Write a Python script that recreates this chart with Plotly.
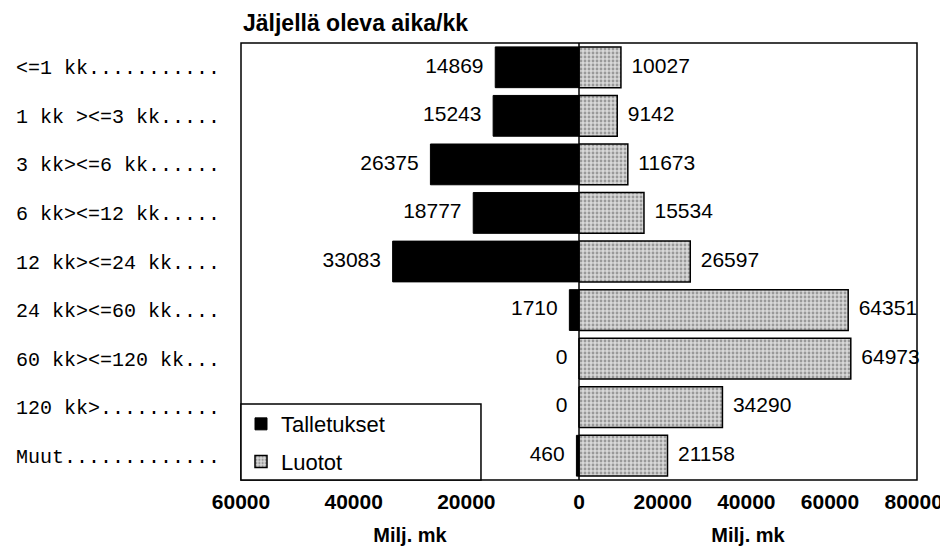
import plotly.graph_objects as go

categories = ["<=1 kk...........", "1 kk ><=3 kk.....", "3 kk><=6 kk......",
              "6 kk><=12 kk.....", "12 kk><=24 kk....", "24 kk><=60 kk....",
              "60 kk><=120 kk...", "120 kk>..........", "Muut............."]
talletukset = [14869, 15243, 26375, 18777, 33083, 1710, 0, 0, 460]
luotot = [10027, 9142, 11673, 15534, 26597, 64351, 64973, 34290, 21158]
left_ticks = [20000, 40000, 60000]
right_ticks = [0, 20000, 40000, 60000, 80000]

SANS = "Liberation Sans, Arial, sans-serif"
NB = "\u00a0"
EN = "\u2002"

fig = go.Figure()
fig.add_trace(go.Bar(
    y=categories, x=talletukset, orientation="h", name="Talletukset",
    xaxis="x", yaxis="y", width=0.84,
    marker=dict(color="black", line=dict(color="black", width=1)),
    legendgroup="a",
))
fig.add_trace(go.Bar(
    y=categories, x=luotot, orientation="h", name="Luotot",
    xaxis="x2", yaxis="y", width=0.84,
    marker=dict(color="#cccccc", line=dict(color="black", width=1.5),
                pattern=dict(shape=".", fgcolor="#5a5a5a", bgcolor="#d8d8d8",
                             size=4, solidity=0.4)),
    legendgroup="b",
))
# value labels
fig.add_trace(go.Scatter(
    y=categories, x=talletukset, xaxis="x", yaxis="y", mode="text",
    text=[f"{v}{NB}{NB}" for v in talletukset], textposition="middle left",
    textfont=dict(family=SANS, size=21, color="black"),
    showlegend=False, cliponaxis=False, hoverinfo="skip",
))
fig.add_trace(go.Scatter(
    y=categories, x=luotot, xaxis="x2", yaxis="y", mode="text",
    text=[f"{EN}{v}" for v in luotot], textposition="middle right",
    textfont=dict(family=SANS, size=21, color="black"),
    showlegend=False, cliponaxis=False, hoverinfo="skip",
))

axis_common = dict(showgrid=False, zeroline=False, showline=False, ticks="", automargin=False,
                   ticklabelstandoff=7,
                   tickfont=dict(family=SANS, size=21, color="black", weight="bold"),
                   title=dict(text="<b>Milj. mk</b>", font=dict(family=SANS, size=20, color="black"),
                              standoff=15))
# page body has an 8px margin: figure is 940x543 placed at (8,8)
fig.update_layout(
    width=940, height=543,
    margin=dict(l=233, r=31, t=35, b=71, autoexpand=False),
    paper_bgcolor="white", plot_bgcolor="white",
    showlegend=True,
    xaxis=dict(domain=[0, 0.5], range=[60000, 0], tickvals=left_ticks,
               ticktext=[str(v) for v in left_ticks], anchor="y", **axis_common),
    xaxis2=dict(domain=[0.5, 1], range=[0, 80800], tickvals=right_ticks,
                ticktext=[str(v) for v in right_ticks], anchor="y", **axis_common),
    yaxis=dict(autorange="reversed", showgrid=False, zeroline=False, ticks="", automargin=False,
               tickfont=dict(family="Liberation Mono, Courier New, monospace", size=20, color="black"),
               ticklabelstandoff=20),
    legend=dict(x=0, y=-0.007, xanchor="left", yanchor="bottom",
                borderwidth=0, bgcolor="rgba(0,0,0,0)",
                font=dict(family=SANS, size=22, color="black"),
                tracegroupgap=6, traceorder="grouped"),
    shapes=[
        dict(type="rect", xref="paper", yref="paper", x0=0, x1=1, y0=0, y1=1,
             line=dict(color="black", width=1.5), layer="above"),
        dict(type="line", xref="paper", yref="paper", x0=0.5, x1=0.5, y0=0, y1=1,
             line=dict(color="black", width=1.5), layer="above"),
        dict(type="rect", xref="paper", yref="paper", x0=0, x1=0.355, y0=0, y1=0.174,
             line=dict(color="black", width=1.5), fillcolor="white", layer="above"),
    ],
    annotations=[dict(text="<b>Jäljellä oleva aika/kk</b>", xref="paper", yref="paper",
                      x=0, y=1, xanchor="left", yanchor="bottom", yshift=5, showarrow=False,
                      font=dict(family=SANS, size=23, color="black"))],
)

fig.write_html("out.html")
